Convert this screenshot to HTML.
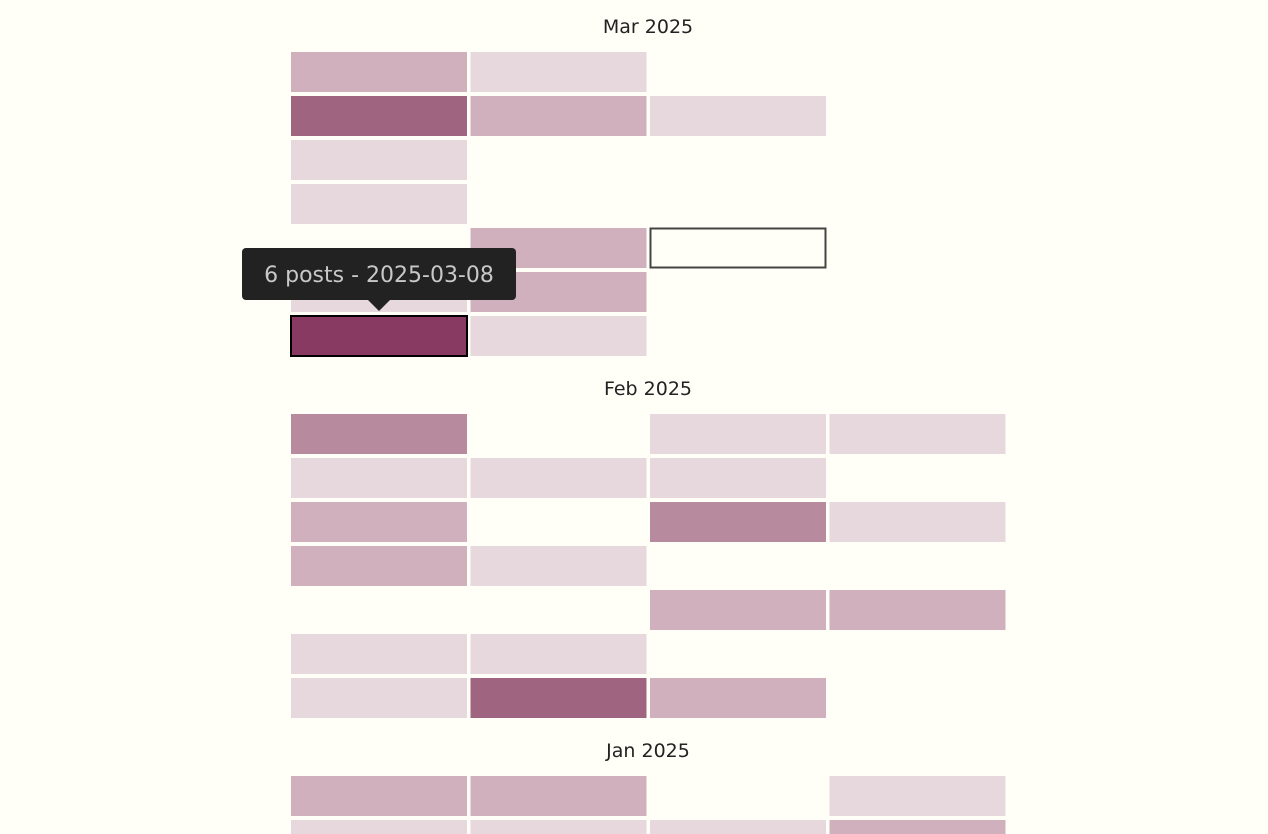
<!DOCTYPE html>
<html><head><meta charset="utf-8"><style>
html,body{margin:0;padding:0;background:#fffff8;}
svg{display:block;font-family:"DejaVu Sans","Liberation Sans",sans-serif;}
</style></head><body>
<svg id="chart" width="1268" height="834" viewBox="0 0 1268 834">
<rect width="1268" height="834" fill="#fffff8"/>
<g id="cells"></g>
<g id="tooltip">
  <rect x="242" y="248" width="274" height="52" rx="4" fill="#222"/>
  <path d="M368 300 L379 311 L390 300 Z" fill="#222"/>
  <text x="379" y="282" text-anchor="middle" font-size="22" fill="#c8c8c8">6 posts - 2025-03-08</text>
</g>
</svg>
<script>
const months = ["Mar 2025", "Feb 2025", "Jan 2025"];
// counts per month: [row][col], 0 = no posts
const marCounts = [[2,1,0,0],[4,2,1,0],[1,0,0,0],[1,0,0,0],[0,2,0,0],[1,2,0,0],[6,1,0,0]];
const febCounts = [[3,0,1,1],[1,1,1,0],[2,0,3,1],[2,1,0,0],[0,0,2,2],[1,1,0,0],[1,4,2,0]];
const janCounts = [[2,2,0,1],[1,1,1,2],[0,0,0,0],[0,0,0,0],[0,0,0,0],[0,0,0,0],[0,0,0,0]];
const allCounts = [marCounts, febCounts, janCounts];
const levelColors = ["none","#e6d8dc","#cfb0bc","#b78a9e","#9f6580","#93506f","#883a63"];
const selected = {month:0,row:6,col:0};
const todayCell = {month:0,row:4,col:2};

const NS = "http://www.w3.org/2000/svg";
const g = document.getElementById("cells");
const x = c => 291 + c*179.5;
const monthTop = m => 52 + m*362;
const y = (m,r) => monthTop(m) + r*44;
function color(v){ return levelColors[Math.min(v, levelColors.length-1)]; }

months.forEach((name, m) => {
  const t = document.createElementNS(NS, "text");
  t.setAttribute("x", 648); t.setAttribute("y", monthTop(m) - 19);
  t.setAttribute("text-anchor", "middle"); t.setAttribute("font-size", "19"); t.setAttribute("fill", "#222");
  t.textContent = name;
  
  
  g.appendChild(t);
  allCounts[m].forEach((row, r) => {
    row.forEach((v, c) => {
      const isToday = todayCell.month===m && todayCell.row===r && todayCell.col===c;
      const isSel = selected.month===m && selected.row===r && selected.col===c;
      if (v === 0 && !isToday) return;
      const rc = document.createElementNS(NS, "rect");
      rc.setAttribute("x", x(c)); rc.setAttribute("y", y(m,r));
      rc.setAttribute("width", 176); rc.setAttribute("height", 40);
      rc.setAttribute("fill", v===0 ? "#fffff8" : color(v));
      if (isToday) { rc.setAttribute("stroke", "#444"); rc.setAttribute("stroke-width", "2"); rc.setAttribute("x", x(c)+0.5); rc.setAttribute("y", y(m,r)+0.5); rc.setAttribute("width", 175); rc.setAttribute("height", 39); }
      if (isSel) { rc.setAttribute("stroke", "#000"); rc.setAttribute("stroke-width", "2"); }
      
      
      g.appendChild(rc);
    });
  });
});
</script>
</body></html>
